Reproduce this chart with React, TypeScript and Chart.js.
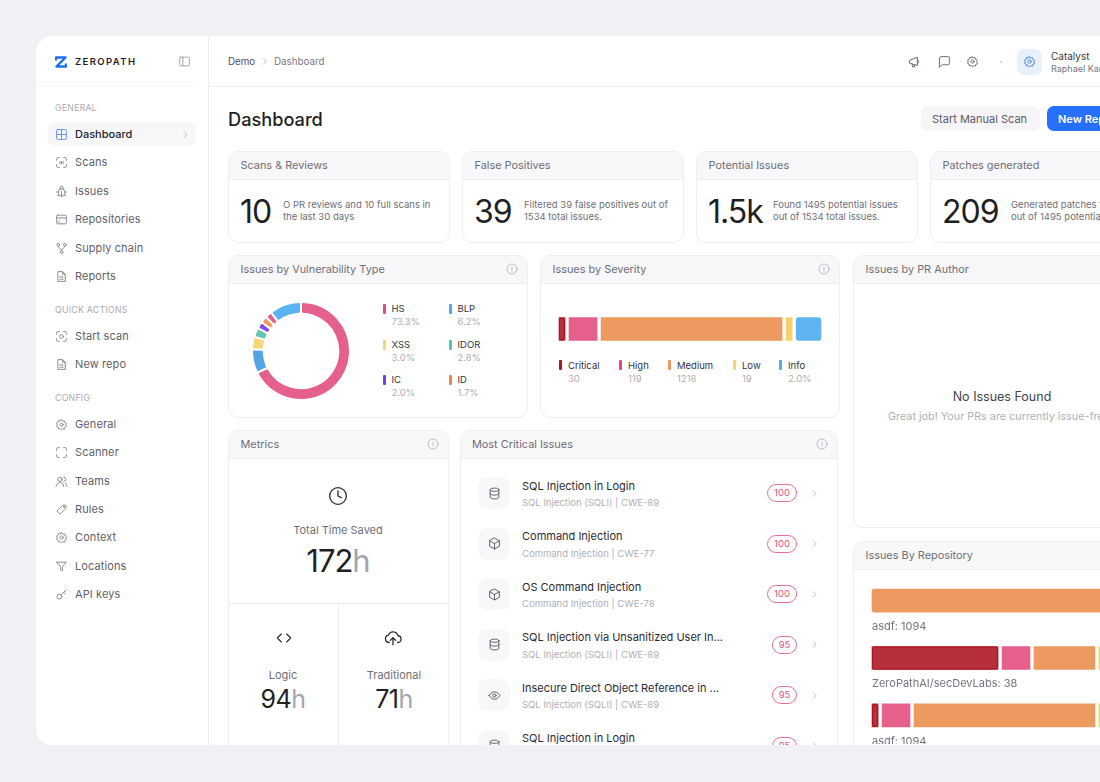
import { useEffect, useRef } from 'react';
import type { ReactNode, CSSProperties } from 'react';
import { Chart, registerables } from 'chart.js';
import type { Plugin } from 'chart.js';

Chart.register(...registerables);

const FONT = 'Inter, "Noto Sans", sans-serif';

// arcs of the donut, read clockwise from 12 o'clock (share of the ring)
const vulnArcs = [66.9, 7.9, 4.1, 3.0, 2.2, 2.2, 2.2, 10.4];
const vulnArcLabels = ['HS', 'BLP', 'XSS', 'IDOR', 'IC', 'ID', 'Other', 'Other 2'];
const vulnArcColors = ['#e5608a', '#55a3e4', '#f6d576', '#64c5b1', '#7b4df0', '#ee9a5e', '#e5608a', '#5ab2ee'];

const vulnLegendNames = ['HS', 'BLP', 'XSS', 'IDOR', 'IC', 'ID'];
const vulnLegendShares = ['73.3%', '6.2%', '3.0%', '2.8%', '2.0%', '1.7%'];
const vulnLegendColors = ['#e5487e', '#4aa8f5', '#f6d576', '#57c4ae', '#6f3ff0', '#f0863a'];

const severityNames = ['Critical', 'High', 'Medium', 'Low', 'Info'];
const severityCounts = ['30', '119', '1218', '19', '2.0%'];
const severityColors = ['#b5303a', '#e5608a', '#ec9a5f', '#f5d26e', '#5fb4ef'];
const severityLegendColors = ['#b5141f', '#e5487e', '#ec9a5f', '#f5d26e', '#4aaef5'];
// bar lengths as drawn in the picture, small groups have a floor so they are not to count
const severityBarLengths = [66, 211, 1218, 66, 190];

const repoLabels = ['asdf: 1094', 'ZeroPathAI/secDevLabs: 38', 'asdf: 1094'];
const repoCritical = [0, 48.9, 3.8];
const repoHigh = [0, 12, 12];
const repoMedium = [100, 24.4, 69.5];
const repoLow = [0, 7, 3.8];
const repoInfo = [0, 7.7, 10.9];

const criticalIssues = [
  ['SQL Injection in Login', 'SQL Injection (SQLI) | CWE-89', '100', 'db'],
  ['Command Injection', 'Command Injection | CWE-77', '100', 'box'],
  ['OS Command Injection', 'Command Injection | CWE-78', '100', 'box'],
  ['SQL Injection via Unsanitized User In...', 'SQL Injection (SQLI) | CWE-89', '95', 'db'],
  ['Insecure Direct Object Reference in ...', 'SQL Injection (SQLI) | CWE-89', '95', 'eye'],
  ['SQL Injection in Login', 'SQL Injection (SQLI) | CWE-89', '95', 'db'],
];

const navGeneral = [
  ['Scans', 'scan', 162], ['Issues', 'bug', 191], ['Repositories', 'repo', 219],
  ['Supply chain', 'fork', 248], ['Reports', 'file', 276],
];
const navQuick = [['Start scan', 'scan2', 336], ['New repo', 'file', 364]];
const navConfig = [
  ['General', 'gear', 424], ['Scanner', 'frame', 452], ['Teams', 'users', 481], ['Rules', 'tag', 509],
  ['Context', 'gear', 537], ['Locations', 'filter', 566], ['API keys', 'key', 594],
];

const statCards = [
  ['Scans & Reviews', '10', 'O PR reviews and 10 full scans in', 'the last 30 days', 228, 55],
  ['False Positives', '39', 'Filtered 39 false positives out of', '1534 total issues.', 462, 62],
  ['Potential Issues', '1.5k', 'Found 1495 potential issues', 'out of 1534 total issues.', 696, 77],
  ['Patches generated', '209', 'Generated patches for', 'out of 1495 potential issues', 930, 81],
];

const ICONS: Record<string, ReactNode> = {
  panel: <><rect x="3" y="4" width="18" height="16" rx="2" /><path d="M9 4v16" /></>,
  layout: <><rect x="3" y="3" width="18" height="18" rx="2" /><path d="M3 12h18M12 3v18" /></>,
  scan: <><path d="M3 8V5a2 2 0 0 1 2-2h3M16 3h3a2 2 0 0 1 2 2v3M21 16v3a2 2 0 0 1-2 2h-3M8 21H5a2 2 0 0 1-2-2v-3" /><path d="M9 10v4M12 10v4M15 10v4" /></>,
  scan2: <><path d="M3 8V5a2 2 0 0 1 2-2h3M16 3h3a2 2 0 0 1 2 2v3M21 16v3a2 2 0 0 1-2 2h-3M8 21H5a2 2 0 0 1-2-2v-3" /><circle cx="12" cy="12" r="3.5" /></>,
  frame: <path d="M3 8V5a2 2 0 0 1 2-2h3M16 3h3a2 2 0 0 1 2 2v3M21 16v3a2 2 0 0 1-2 2h-3M8 21H5a2 2 0 0 1-2-2v-3" />,
  bug: <><rect x="6" y="7" width="12" height="14" rx="6" /><path d="M9 7V5a3 3 0 0 1 6 0v2M12 12v9M3 13h3M18 13h3M4 20l3-2M20 20l-3-2" /></>,
  repo: <><rect x="3" y="4" width="18" height="16" rx="2" /><path d="M3 9h18M8 14l-2 2 2 2" /></>,
  fork: <><circle cx="6" cy="5" r="2.5" /><circle cx="18" cy="5" r="2.5" /><circle cx="12" cy="19" r="2.5" /><path d="M6 8c0 4 6 3 6 8M18 8c0 4-6 3-6 8" /></>,
  file: <><path d="M6 3h8l5 5v13H6z" /><path d="M14 3v5h5M9 13h6M9 17h6" /></>,
  gear: <><circle cx="12" cy="12" r="3" /><path d="M12 3l2 2.6 3.3-.5.9 3.2 3 1.6-1.4 3 1.4 3-3 1.5-.9 3.2-3.3-.5L12 22l-2-2.4-3.3.5-.9-3.2-3-1.5 1.4-3-1.4-3 3-1.6.9-3.2 3.3.5z" /></>,
  users: <><circle cx="9" cy="8" r="4" /><path d="M2 21c0-4 3-7 7-7s7 3 7 7M16 4a4 4 0 0 1 0 8M19 15c2 1 3 3 3 6" /></>,
  tag: <><path d="M4 14L14 4h6v6L10 20z" /><circle cx="16.5" cy="7.5" r="1" /></>,
  filter: <path d="M3 4h18l-7 8v8l-4-2v-6z" />,
  key: <><circle cx="8" cy="16" r="4.5" /><path d="M11 13l9-9M16 8l3 3" /></>,
  horn: <><path d="M3 9l13-5v14L3 14z" /><path d="M16 8a3.500 3.500 0 0 1 0 6.500M7 15.500l1 5h3.500l-1-4" /></>,
  chat: <path d="M3 5a2 2 0 0 1 2-2h14a2 2 0 0 1 2 2v11a2 2 0 0 1-2 2H8l-5 4z" />,
  db: <><ellipse cx="12" cy="5" rx="8" ry="3" /><path d="M4 5v14c0 1.700 3.600 3 8 3s8-1.300 8-3V5M4 12c0 1.700 3.600 3 8 3s8-1.300 8-3" /></>,
  box: <><path d="M12 2l9 5v10l-9 5-9-5V7z" /><path d="M12 12v10M12 12L3 7M12 12l9-5" /></>,
  eye: <><path d="M2 12s4-7 10-7 10 7 10 7-4 7-10 7-10-7-10-7z" /><circle cx="12" cy="12" r="3" /></>,
  clock: <><circle cx="12" cy="12" r="10" /><path d="M12 6v6l4 2" /></>,
  code: <path d="M8 6l-6 6 6 6M16 6l6 6-6 6" />,
  upload: <><path d="M7 18a5 5 0 0 1-1-9.900A6.500 6.500 0 0 1 18.500 9 4.500 4.500 0 0 1 18 18" /><path d="M12 21v-9M8.500 15l3.500-3.500 3.500 3.500" /></>,
  chevron: <path d="M9 5l7 7-7 7" />,
  info: <><circle cx="12" cy="12" r="10" /><path d="M12 8v5M12 16v.5" /></>,
};

// the Critical segments have a darker rim inside the white gap
const criticalRim: Plugin<'bar'> = {
  id: 'criticalRim',
  afterDatasetsDraw(chart) {
    const { ctx } = chart;
    ctx.save();
    ctx.strokeStyle = '#ad0f1c';
    ctx.lineWidth = 1;
    chart.getDatasetMeta(0).data.forEach((el: any) => {
      const w = Math.abs(el.x - el.base);
      if (w < 5) return;
      ctx.beginPath();
      ctx.roundRect(el.base + 2.5, el.y - el.height / 2 + 2.5, w - 5, el.height - 5, 2.5);
      ctx.stroke();
    });
    ctx.restore();
  },
};

function Icon({ name, x, y, size = 14, color = '#7a7a84', sw = 1.700 }: { name: string; x: number; y: number; size?: number; color?: string; sw?: number }) {
  return (
    <svg width={size} height={size} viewBox="0 0 24 24" fill="none" stroke={color} strokeWidth={sw} strokeLinecap="round" strokeLinejoin="round"
      style={{ position: 'absolute', left: x - size / 2, top: y - size / 2 }}>
      {ICONS[name]}
    </svg>
  );
}

// text whose vertical centre sits on y
function T({ x, y, size = 12, color = '#1f1f24', weight = 400, center, spacing, children }: { x: number; y: number; size?: number; color?: string; weight?: number; center?: boolean; spacing?: number; children: ReactNode }) {
  const style: CSSProperties = {
    position: 'absolute', left: x, top: y, fontSize: size, color, fontWeight: weight, whiteSpace: 'nowrap', lineHeight: 1,
    letterSpacing: spacing, transform: center ? 'translate(-50%,-50%)' : 'translateY(-50%)',
  };
  return <div style={style}>{children}</div>;
}

function Card({ x, y, w, h, head, title, info = true }: { x: number; y: number; w: number; h: number; head: number; title: string; info?: boolean }) {
  return (
    <>
      <div style={{ position: 'absolute', left: x, top: y, width: w, height: h, boxSizing: 'border-box', border: '1px solid #efeef2', borderRadius: 10, overflow: 'hidden', background: '#fff' }}>
        <div style={{ height: head - 1, background: '#f8f7fa', borderBottom: '1px solid #efeef2', boxSizing: 'border-box' }} />
      </div>
      <T x={x + 12.500} y={y + head / 2 - 0.5} size={10.900} color="#6f6f79">{title}</T>
      {info && <Icon name="info" x={x + w - 16} y={y + head / 2 - 0.5} size={12} color="#a8a8b0" sw={1.500} />}
    </>
  );
}

function DonutChart() {
  const ref = useRef<HTMLCanvasElement>(null);
  useEffect(() => {
    if (!ref.current) return;
    const chart = new Chart(ref.current, {
      type: 'doughnut',
      data: {
        labels: vulnArcLabels,
        datasets: [{ data: vulnArcs, backgroundColor: vulnArcColors, borderColor: '#fff', borderWidth: 2, borderRadius: 2 }],
      },
      options: {
        responsive: false,
        animation: false,
        cutout: '76%',
        plugins: { legend: { display: false }, tooltip: { enabled: false } },
      },
    });
    return () => chart.destroy();
  }, []);
  return <canvas ref={ref} width={100} height={100} style={{ position: 'absolute', left: 251, top: 301 }} />;
}

function SeverityChart() {
  const ref = useRef<HTMLCanvasElement>(null);
  useEffect(() => {
    if (!ref.current) return;
    const chart = new Chart(ref.current, {
      type: 'bar',
      data: {
        labels: ['Severity'],
        datasets: severityNames.map((name, i) => ({
          label: name,
          data: [severityBarLengths[i]],
          backgroundColor: severityColors[i],
          borderColor: '#fff',
          borderWidth: 2,
          borderSkipped: false,
          borderRadius: 5,
          barThickness: 27,
        })),
      },
      options: {
        indexAxis: 'y',
        responsive: false,
        animation: false,
        scales: {
          x: { stacked: true, display: false, min: 0, max: severityBarLengths.reduce((a, b) => a + b, 0) },
          y: { stacked: true, display: false },
        },
        plugins: { legend: { display: false }, tooltip: { enabled: false } },
      },
      plugins: [criticalRim],
    });
    return () => chart.destroy();
  }, []);
  return <canvas ref={ref} width={266} height={40} style={{ position: 'absolute', left: 557, top: 309 }} />;
}

function RepoChart() {
  const ref = useRef<HTMLCanvasElement>(null);
  useEffect(() => {
    if (!ref.current) return;
    const rows = [repoCritical, repoHigh, repoMedium, repoLow, repoInfo];
    const chart = new Chart(ref.current, {
      type: 'bar',
      data: {
        labels: repoLabels,
        datasets: severityNames.map((name, i) => ({
          label: name,
          data: rows[i],
          backgroundColor: severityColors[i],
          borderColor: '#fff',
          borderWidth: 2,
          borderSkipped: false,
          borderRadius: 5,
          barThickness: 27,
        })),
      },
      options: {
        indexAxis: 'y',
        responsive: false,
        animation: false,
        scales: {
          x: { stacked: true, display: false, min: 0, max: 100 },
          y: {
            stacked: true,
            border: { display: false },
            grid: { display: false, drawTicks: false },
            ticks: { mirror: true, padding: 2, labelOffset: 26, autoSkip: false, color: '#74747e', font: { family: FONT, size: 11 } },
            afterFit: (s: any) => {
              s.width = 0;
              s.paddingTop = 0;
              s.paddingBottom = 0;
            },
          },
        },
        plugins: { legend: { display: false }, tooltip: { enabled: false } },
      },
      plugins: [criticalRim],
    });
    return () => chart.destroy();
  }, []);
  return <canvas ref={ref} width={266} height={172} style={{ position: 'absolute', left: 870, top: 571.5 }} />;
}

function NavItem({ label, icon, y }: { label: string; icon: string; y: number }) {
  return (
    <>
      <Icon name={icon} x={61} y={y} size={13} color="#85858f" />
      <T x={75} y={y} size={11} color="#5f5f69" spacing={0.1}>{label}</T>
    </>
  );
}

export default function App() {
  return (
    <div style={{ position: 'fixed', left: 0, top: 0, width: 1100, height: 782, background: '#f1f0f4', overflow: 'hidden', fontFamily: FONT }}>
      <div style={{ position: 'absolute', left: 36, top: 36, width: 1200, height: 709, background: '#fff', borderRadius: 16, overflow: 'hidden' }}>
        <div style={{ position: 'absolute', left: -36, top: -36, width: 1100, height: 782 }}>
          {/* sidebar */}
          <div style={{ position: 'absolute', left: 208, top: 36, width: 1, height: 709, background: '#eeedf1' }} />
          <div style={{ position: 'absolute', left: 36, top: 86, width: 160, height: 1, background: '#f6f5f8' }} />
          <div style={{ position: 'absolute', left: 209, top: 86, width: 891, height: 1, background: '#eeedf1' }} />
          <svg width="12" height="12" viewBox="0 0 12 12" fill="none" stroke="#1d6ff2" strokeWidth="2.400" strokeLinejoin="round" style={{ position: 'absolute', left: 54.500, top: 55.500 }}>
            <path d="M1 4.500V1.500h9.500L1.500 10.500H11V7.500" />
          </svg>
          <T x={75} y={61.500} size={9.500} weight={600} spacing={1.400}>ZEROPATH</T>
          <Icon name="panel" x={184} y={61.500} size={13} color="#9a9aa3" sw={1.600} />

          <T x={55} y={108} size={8.700} color="#a9a9b1" spacing={0.3}>GENERAL</T>
          <div style={{ position: 'absolute', left: 48, top: 122, width: 148, height: 24, background: '#f7f6f9', borderRadius: 7 }} />
          <Icon name="layout" x={61} y={134} size={13} color="#5c8cf0" />
          <T x={75} y={134} size={11} weight={500} color="#26262c">Dashboard</T>
          <Icon name="chevron" x={185} y={134} size={9} color="#9a9aa3" />
          {navGeneral.map(([l, i, y]) => <NavItem key={l as string} label={l as string} icon={i as string} y={y as number} />)}
          <T x={55} y={310} size={8.700} color="#a9a9b1" spacing={0.3}>QUICK ACTIONS</T>
          {navQuick.map(([l, i, y]) => <NavItem key={l as string} label={l as string} icon={i as string} y={y as number} />)}
          <T x={55} y={398} size={8.700} color="#a9a9b1" spacing={0.3}>CONFIG</T>
          {navConfig.map(([l, i, y]) => <NavItem key={l as string} label={l as string} icon={i as string} y={y as number} />)}

          {/* top bar */}
          <T x={228} y={61.500} size={9.800} color="#4e4e58">Demo</T>
          <Icon name="chevron" x={264} y={61.500} size={9} color="#9a9aa3" />
          <T x={274} y={61.500} size={9.800} color="#7a7a84">Dashboard</T>
          <Icon name="horn" x={915} y={61.500} size={14} color="#66666f" />
          <Icon name="chat" x={944} y={61.500} size={13} color="#66666f" />
          <Icon name="gear" x={972} y={61.500} size={13} color="#66666f" />
          <div style={{ position: 'absolute', left: 1000, top: 61, width: 2, height: 2, borderRadius: 1, background: '#c9c9cf' }} />
          <div style={{ position: 'absolute', left: 1017, top: 49, width: 25, height: 26, borderRadius: 7, background: '#e8effd' }} />
          <Icon name="gear" x={1029} y={61.500} size={13} color="#3f7ff0" />
          <T x={1051} y={55.500} size={10} color="#3a3a42">Catalyst</T>
          <T x={1051} y={68} size={9} color="#75757f">Raphael Karger</T>

          {/* title row */}
          <T x={228} y={119} size={18.200} weight={500}>Dashboard</T>
          <div style={{ position: 'absolute', left: 921, top: 106, width: 119, height: 25, borderRadius: 7, background: '#f6f5f8' }} />
          <T x={932} y={118.500} size={11} color="#5c5c66">Start Manual Scan</T>
          <div style={{ position: 'absolute', left: 1047, top: 106, width: 100, height: 25, borderRadius: 7, background: '#2670fb' }} />
          <T x={1058} y={118.500} size={11} color="#fff" weight={600}>New Repository</T>

          {/* stat cards */}
          {statCards.map(([title, num, a, b, x, off]) => (
            <div key={title as string}>
              <Card x={x as number} y={151} w={222} h={92} head={29} title={title as string} info={false} />
              <T x={(x as number) + 12} y={212} size={32} weight={400} spacing={-1}>{num}</T>
              <T x={(x as number) + (off as number)} y={205} size={9.500} color="#6f6f79">{a}</T>
              <T x={(x as number) + (off as number)} y={217} size={9.500} color="#6f6f79">{b}</T>
            </div>
          ))}

          {/* vulnerability type */}
          <Card x={228} y={255} w={300} h={163} head={29} title="Issues by Vulnerability Type" />
          <DonutChart />
          {vulnLegendNames.map((name, i) => {
            const x = i % 2 ? 449 : 383;
            const y = 309 + Math.floor(i / 2) * 35.500;
            return (
              <div key={name}>
                <div style={{ position: 'absolute', left: x, top: y - 5, width: 2.500, height: 10, borderRadius: 1, background: vulnLegendColors[i] }} />
                <T x={x + 8.500} y={y} size={9.500} color="#34343c">{name}</T>
                <T x={x + 8.500} y={y + 13} size={9.500} color="#adadb5">{vulnLegendShares[i]}</T>
              </div>
            );
          })}

          {/* severity */}
          <Card x={540} y={255} w={300} h={163} head={29} title="Issues by Severity" />
          <SeverityChart />
          {severityNames.map((name, i) => {
            const x = [559, 619, 668, 733, 779][i];
            return (
              <div key={name}>
                <div style={{ position: 'absolute', left: x, top: 360, width: 2.500, height: 10, borderRadius: 1, background: severityLegendColors[i] }} />
                <T x={x + 9} y={365.500} size={9.500} color="#34343c">{name}</T>
                <T x={x + 9} y={378.500} size={9.500} color="#adadb5">{severityCounts[i]}</T>
              </div>
            );
          })}

          {/* PR author */}
          <Card x={853} y={255} w={300} h={273} head={29} title="Issues by PR Author" info={false} />
          <T x={1002} y={397} size={12.500} color="#44444c" center>No Issues Found</T>
          <T x={888} y={417} size={10.800} color="#b0b0b8">Great job! Your PRs are currently issue-free</T>

          {/* repos */}
          <Card x={853} y={541} w={300} h={260} head={29} title="Issues By Repository" info={false} />
          <RepoChart />

          {/* metrics */}
          <Card x={228} y={430} w={221} h={360} head={29} title="Metrics" />
          <Icon name="clock" x={338} y={496} size={20} color="#2b2b32" sw={1.600} />
          <T x={338} y={530} size={11} color="#6f6f79" center>Total Time Saved</T>
          <T x={338} y={560} size={31} weight={400} center spacing={-1}>172<span style={{ color: '#a5a5ad' }}>h</span></T>
          <div style={{ position: 'absolute', left: 229, top: 603, width: 219, height: 1, background: '#eeedf1' }} />
          <div style={{ position: 'absolute', left: 338, top: 603, width: 1, height: 142, background: '#eeedf1' }} />
          <Icon name="code" x={284} y={638} size={16} color="#2b2b32" />
          <T x={283} y={675} size={11} color="#6f6f79" center>Logic</T>
          <T x={283} y={699} size={25} weight={400} center spacing={-0.5}>94<span style={{ color: '#a5a5ad' }}>h</span></T>
          <Icon name="upload" x={393} y={638} size={18} color="#2b2b32" />
          <T x={394} y={675} size={11} color="#6f6f79" center>Traditional</T>
          <T x={394} y={699} size={25} weight={400} center spacing={-0.5}>71<span style={{ color: '#a5a5ad' }}>h</span></T>

          {/* most critical */}
          <Card x={459.500} y={430} w={378.500} h={360} head={29} title="Most Critical Issues" />
          {criticalIssues.map(([title, sub, score, icon], i) => {
            const y = 493 + i * 50.500;
            const bw = score === '100' ? 30 : 25;
            return (
              <div key={i}>
                <div style={{ position: 'absolute', left: 478, top: y - 16, width: 32, height: 32, borderRadius: 9, background: '#f8f7fa' }} />
                <Icon name={icon} x={494} y={y} size={13} color="#55555e" />
                <T x={522} y={y - 7.500} size={11} color="#2c2c33">{title}</T>
                <T x={522} y={y + 10} size={9.500} color="#b0b0b8">{sub}</T>
                <div style={{ position: 'absolute', left: 797 - bw, top: y - 9, width: bw, height: 18, boxSizing: 'border-box', border: '1px solid #e8718f', borderRadius: 9, color: '#e2557f', fontSize: 9.500, textAlign: 'center', lineHeight: '16px' }}>{score}</div>
                <Icon name="chevron" x={814} y={y} size={9} color="#9a9aa3" />
              </div>
            );
          })}
        </div>
      </div>
    </div>
  );
}
